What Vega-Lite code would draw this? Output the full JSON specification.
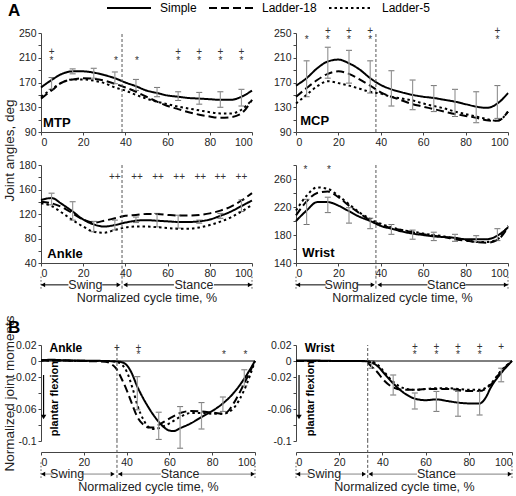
{
  "$schema": "https://vega.github.io/schema/vega-lite/v6.json",
  "autosize": {"type": "none"},
  "padding": {"left": 41, "top": 33, "right": 475, "bottom": 463},
  "columns": 2,
  "align": "none",
  "bounds": "flush",
  "spacing": {"row": 0, "column": 41},
  "config": {
    "font": "Liberation Sans",
    "view": {"stroke": null},
    "axis": {"labelFont": "Liberation Sans", "labelFontSize": 10.5, "labelColor": "#222", "domainColor": "#444", "tickColor": "#444", "tickSize": 3, "labelPadding": 2, "grid": false, "titleFont": "Liberation Sans", "titleFontSize": 13.5, "titleFontWeight": "normal", "titleColor": "#222"},
    "text": {"font": "Liberation Sans"},
    "title": {"font": "Liberation Sans"},
    "legend": {"gridAlign": "none"}
  },
  "datasets": {
    "mtp": [
      {"s":"Simple","x":0,"y":162},{"s":"Simple","x":5,"y":174},{"s":"Simple","x":10,"y":184},{"s":"Simple","x":15,"y":188},{"s":"Simple","x":20,"y":188},{"s":"Simple","x":25,"y":186},{"s":"Simple","x":30,"y":182},{"s":"Simple","x":35,"y":177},{"s":"Simple","x":40,"y":170},{"s":"Simple","x":45,"y":164},{"s":"Simple","x":50,"y":157},{"s":"Simple","x":55,"y":153},{"s":"Simple","x":60,"y":149},{"s":"Simple","x":65,"y":147},{"s":"Simple","x":70,"y":145},{"s":"Simple","x":75,"y":144},{"s":"Simple","x":80,"y":143},{"s":"Simple","x":85,"y":142},{"s":"Simple","x":90,"y":142},{"s":"Simple","x":95,"y":147},{"s":"Simple","x":100,"y":157},
      {"s":"Ladder-18","x":0,"y":144},{"s":"Ladder-18","x":5,"y":157},{"s":"Ladder-18","x":10,"y":170},{"s":"Ladder-18","x":15,"y":175},{"s":"Ladder-18","x":20,"y":177},{"s":"Ladder-18","x":25,"y":176},{"s":"Ladder-18","x":30,"y":173},{"s":"Ladder-18","x":35,"y":168},{"s":"Ladder-18","x":40,"y":162},{"s":"Ladder-18","x":45,"y":155},{"s":"Ladder-18","x":50,"y":147},{"s":"Ladder-18","x":55,"y":139},{"s":"Ladder-18","x":60,"y":132},{"s":"Ladder-18","x":65,"y":127},{"s":"Ladder-18","x":70,"y":122},{"s":"Ladder-18","x":75,"y":118},{"s":"Ladder-18","x":80,"y":115},{"s":"Ladder-18","x":85,"y":113},{"s":"Ladder-18","x":90,"y":114},{"s":"Ladder-18","x":95,"y":120},{"s":"Ladder-18","x":100,"y":142},
      {"s":"Ladder-5","x":0,"y":147},{"s":"Ladder-5","x":5,"y":159},{"s":"Ladder-5","x":10,"y":170},{"s":"Ladder-5","x":15,"y":175},{"s":"Ladder-5","x":20,"y":175},{"s":"Ladder-5","x":25,"y":173},{"s":"Ladder-5","x":30,"y":169},{"s":"Ladder-5","x":35,"y":162},{"s":"Ladder-5","x":40,"y":157},{"s":"Ladder-5","x":45,"y":150},{"s":"Ladder-5","x":50,"y":144},{"s":"Ladder-5","x":55,"y":139},{"s":"Ladder-5","x":60,"y":135},{"s":"Ladder-5","x":65,"y":131},{"s":"Ladder-5","x":70,"y":128},{"s":"Ladder-5","x":75,"y":125},{"s":"Ladder-5","x":80,"y":122},{"s":"Ladder-5","x":85,"y":120},{"s":"Ladder-5","x":90,"y":120},{"s":"Ladder-5","x":95,"y":126},{"s":"Ladder-5","x":100,"y":142}
    ],
    "mcp": [
      {"s":"Simple","x":0,"y":165},{"s":"Simple","x":5,"y":177},{"s":"Simple","x":10,"y":193},{"s":"Simple","x":15,"y":204},{"s":"Simple","x":20,"y":207},{"s":"Simple","x":25,"y":201},{"s":"Simple","x":30,"y":191},{"s":"Simple","x":35,"y":177},{"s":"Simple","x":40,"y":166},{"s":"Simple","x":45,"y":159},{"s":"Simple","x":50,"y":154},{"s":"Simple","x":55,"y":150},{"s":"Simple","x":60,"y":147},{"s":"Simple","x":65,"y":145},{"s":"Simple","x":70,"y":142},{"s":"Simple","x":75,"y":139},{"s":"Simple","x":80,"y":135},{"s":"Simple","x":85,"y":131},{"s":"Simple","x":90,"y":129},{"s":"Simple","x":95,"y":136},{"s":"Simple","x":100,"y":153},
      {"s":"Ladder-18","x":0,"y":147},{"s":"Ladder-18","x":5,"y":161},{"s":"Ladder-18","x":10,"y":174},{"s":"Ladder-18","x":15,"y":184},{"s":"Ladder-18","x":20,"y":188},{"s":"Ladder-18","x":25,"y":184},{"s":"Ladder-18","x":30,"y":175},{"s":"Ladder-18","x":35,"y":165},{"s":"Ladder-18","x":40,"y":154},{"s":"Ladder-18","x":45,"y":147},{"s":"Ladder-18","x":50,"y":141},{"s":"Ladder-18","x":55,"y":135},{"s":"Ladder-18","x":60,"y":131},{"s":"Ladder-18","x":65,"y":127},{"s":"Ladder-18","x":70,"y":123},{"s":"Ladder-18","x":75,"y":119},{"s":"Ladder-18","x":80,"y":116},{"s":"Ladder-18","x":85,"y":113},{"s":"Ladder-18","x":90,"y":109},{"s":"Ladder-18","x":95,"y":108},{"s":"Ladder-18","x":100,"y":123},
      {"s":"Ladder-5","x":0,"y":136},{"s":"Ladder-5","x":5,"y":150},{"s":"Ladder-5","x":10,"y":164},{"s":"Ladder-5","x":15,"y":172},{"s":"Ladder-5","x":20,"y":169},{"s":"Ladder-5","x":25,"y":165},{"s":"Ladder-5","x":30,"y":160},{"s":"Ladder-5","x":35,"y":155},{"s":"Ladder-5","x":40,"y":152},{"s":"Ladder-5","x":45,"y":147},{"s":"Ladder-5","x":50,"y":144},{"s":"Ladder-5","x":55,"y":141},{"s":"Ladder-5","x":60,"y":136},{"s":"Ladder-5","x":65,"y":132},{"s":"Ladder-5","x":70,"y":128},{"s":"Ladder-5","x":75,"y":123},{"s":"Ladder-5","x":80,"y":119},{"s":"Ladder-5","x":85,"y":115},{"s":"Ladder-5","x":90,"y":111},{"s":"Ladder-5","x":95,"y":108},{"s":"Ladder-5","x":100,"y":123}
    ],
    "ankleA": [
      {"s":"Simple","x":0,"y":143},{"s":"Simple","x":5,"y":146},{"s":"Simple","x":10,"y":136},{"s":"Simple","x":15,"y":124},{"s":"Simple","x":20,"y":111},{"s":"Simple","x":25,"y":103},{"s":"Simple","x":30,"y":99.5},{"s":"Simple","x":35,"y":102},{"s":"Simple","x":40,"y":106},{"s":"Simple","x":45,"y":109},{"s":"Simple","x":50,"y":110},{"s":"Simple","x":55,"y":109},{"s":"Simple","x":60,"y":108},{"s":"Simple","x":65,"y":107},{"s":"Simple","x":70,"y":107},{"s":"Simple","x":75,"y":108},{"s":"Simple","x":80,"y":111},{"s":"Simple","x":85,"y":117},{"s":"Simple","x":90,"y":124},{"s":"Simple","x":95,"y":133},{"s":"Simple","x":100,"y":142},
      {"s":"Ladder-18","x":0,"y":140},{"s":"Ladder-18","x":5,"y":137.5},{"s":"Ladder-18","x":10,"y":131},{"s":"Ladder-18","x":15,"y":121},{"s":"Ladder-18","x":20,"y":111},{"s":"Ladder-18","x":25,"y":106},{"s":"Ladder-18","x":30,"y":109},{"s":"Ladder-18","x":35,"y":113},{"s":"Ladder-18","x":40,"y":117},{"s":"Ladder-18","x":45,"y":118.5},{"s":"Ladder-18","x":50,"y":120},{"s":"Ladder-18","x":55,"y":120},{"s":"Ladder-18","x":60,"y":118.5},{"s":"Ladder-18","x":65,"y":117.5},{"s":"Ladder-18","x":70,"y":117.5},{"s":"Ladder-18","x":75,"y":118.5},{"s":"Ladder-18","x":80,"y":121},{"s":"Ladder-18","x":85,"y":125.5},{"s":"Ladder-18","x":90,"y":132},{"s":"Ladder-18","x":95,"y":142},{"s":"Ladder-18","x":100,"y":154},
      {"s":"Ladder-5","x":0,"y":137.5},{"s":"Ladder-5","x":5,"y":133},{"s":"Ladder-5","x":10,"y":122},{"s":"Ladder-5","x":15,"y":110},{"s":"Ladder-5","x":20,"y":99.5},{"s":"Ladder-5","x":25,"y":91},{"s":"Ladder-5","x":30,"y":89.5},{"s":"Ladder-5","x":35,"y":94},{"s":"Ladder-5","x":40,"y":98},{"s":"Ladder-5","x":45,"y":99.5},{"s":"Ladder-5","x":50,"y":99.5},{"s":"Ladder-5","x":55,"y":98.5},{"s":"Ladder-5","x":60,"y":97},{"s":"Ladder-5","x":65,"y":96},{"s":"Ladder-5","x":70,"y":96},{"s":"Ladder-5","x":75,"y":98},{"s":"Ladder-5","x":80,"y":102},{"s":"Ladder-5","x":85,"y":107.5},{"s":"Ladder-5","x":90,"y":114.5},{"s":"Ladder-5","x":95,"y":124},{"s":"Ladder-5","x":100,"y":135}
    ],
    "wristA": [
      {"s":"Simple","x":0,"y":200},{"s":"Simple","x":5,"y":215},{"s":"Simple","x":10,"y":227},{"s":"Simple","x":15,"y":227},{"s":"Simple","x":20,"y":222},{"s":"Simple","x":25,"y":214},{"s":"Simple","x":30,"y":206},{"s":"Simple","x":35,"y":200},{"s":"Simple","x":40,"y":193},{"s":"Simple","x":45,"y":189},{"s":"Simple","x":50,"y":185},{"s":"Simple","x":55,"y":182},{"s":"Simple","x":60,"y":180},{"s":"Simple","x":65,"y":178},{"s":"Simple","x":70,"y":177},{"s":"Simple","x":75,"y":176},{"s":"Simple","x":80,"y":174},{"s":"Simple","x":85,"y":174},{"s":"Simple","x":90,"y":174},{"s":"Simple","x":95,"y":179},{"s":"Simple","x":100,"y":191},
      {"s":"Ladder-18","x":0,"y":208},{"s":"Ladder-18","x":5,"y":228},{"s":"Ladder-18","x":10,"y":240},{"s":"Ladder-18","x":15,"y":242},{"s":"Ladder-18","x":20,"y":234},{"s":"Ladder-18","x":25,"y":222},{"s":"Ladder-18","x":30,"y":211},{"s":"Ladder-18","x":35,"y":201},{"s":"Ladder-18","x":40,"y":195},{"s":"Ladder-18","x":45,"y":190},{"s":"Ladder-18","x":50,"y":187},{"s":"Ladder-18","x":55,"y":184},{"s":"Ladder-18","x":60,"y":181},{"s":"Ladder-18","x":65,"y":179},{"s":"Ladder-18","x":70,"y":177},{"s":"Ladder-18","x":75,"y":174},{"s":"Ladder-18","x":80,"y":172},{"s":"Ladder-18","x":85,"y":170},{"s":"Ladder-18","x":90,"y":169},{"s":"Ladder-18","x":95,"y":173},{"s":"Ladder-18","x":100,"y":191},
      {"s":"Ladder-5","x":0,"y":215},{"s":"Ladder-5","x":5,"y":236},{"s":"Ladder-5","x":10,"y":248},{"s":"Ladder-5","x":15,"y":246},{"s":"Ladder-5","x":20,"y":236},{"s":"Ladder-5","x":25,"y":224},{"s":"Ladder-5","x":30,"y":212},{"s":"Ladder-5","x":35,"y":203},{"s":"Ladder-5","x":40,"y":196},{"s":"Ladder-5","x":45,"y":191},{"s":"Ladder-5","x":50,"y":187},{"s":"Ladder-5","x":55,"y":185},{"s":"Ladder-5","x":60,"y":182},{"s":"Ladder-5","x":65,"y":180},{"s":"Ladder-5","x":70,"y":178},{"s":"Ladder-5","x":75,"y":175},{"s":"Ladder-5","x":80,"y":173},{"s":"Ladder-5","x":85,"y":170},{"s":"Ladder-5","x":90,"y":170},{"s":"Ladder-5","x":95,"y":174},{"s":"Ladder-5","x":100,"y":193}
    ],
    "ankleB": [
      {"s":"Simple","x":0,"y":0.001},{"s":"Simple","x":5,"y":0.0015},{"s":"Simple","x":10,"y":0.001},{"s":"Simple","x":20,"y":0.0005},{"s":"Simple","x":30,"y":0},{"s":"Simple","x":35,"y":-0.0005},{"s":"Simple","x":37,"y":-0.001},{"s":"Simple","x":40,"y":-0.005},{"s":"Simple","x":42,"y":-0.013},{"s":"Simple","x":45,"y":-0.032},{"s":"Simple","x":50,"y":-0.057},{"s":"Simple","x":55,"y":-0.076},{"s":"Simple","x":58,"y":-0.084},{"s":"Simple","x":60,"y":-0.087},{"s":"Simple","x":62,"y":-0.0875},{"s":"Simple","x":65,"y":-0.084},{"s":"Simple","x":70,"y":-0.078},{"s":"Simple","x":75,"y":-0.07},{"s":"Simple","x":80,"y":-0.0625},{"s":"Simple","x":85,"y":-0.053},{"s":"Simple","x":90,"y":-0.04},{"s":"Simple","x":95,"y":-0.022},{"s":"Simple","x":100,"y":0},
      {"s":"Ladder-18","x":0,"y":0.0005},{"s":"Ladder-18","x":10,"y":0.0005},{"s":"Ladder-18","x":20,"y":0},{"s":"Ladder-18","x":30,"y":-0.001},{"s":"Ladder-18","x":33,"y":-0.004},{"s":"Ladder-18","x":35,"y":-0.009},{"s":"Ladder-18","x":38,"y":-0.024},{"s":"Ladder-18","x":40,"y":-0.036},{"s":"Ladder-18","x":43,"y":-0.057},{"s":"Ladder-18","x":45,"y":-0.07},{"s":"Ladder-18","x":48,"y":-0.08},{"s":"Ladder-18","x":50,"y":-0.083},{"s":"Ladder-18","x":53,"y":-0.083},{"s":"Ladder-18","x":55,"y":-0.08},{"s":"Ladder-18","x":60,"y":-0.072},{"s":"Ladder-18","x":65,"y":-0.065},{"s":"Ladder-18","x":70,"y":-0.0625},{"s":"Ladder-18","x":75,"y":-0.063},{"s":"Ladder-18","x":80,"y":-0.0645},{"s":"Ladder-18","x":85,"y":-0.066},{"s":"Ladder-18","x":88,"y":-0.061},{"s":"Ladder-18","x":90,"y":-0.053},{"s":"Ladder-18","x":95,"y":-0.028},{"s":"Ladder-18","x":100,"y":0},
      {"s":"Ladder-5","x":0,"y":0.0005},{"s":"Ladder-5","x":10,"y":0.0005},{"s":"Ladder-5","x":20,"y":0},{"s":"Ladder-5","x":30,"y":0},{"s":"Ladder-5","x":35,"y":-0.001},{"s":"Ladder-5","x":38,"y":-0.005},{"s":"Ladder-5","x":40,"y":-0.013},{"s":"Ladder-5","x":43,"y":-0.036},{"s":"Ladder-5","x":45,"y":-0.055},{"s":"Ladder-5","x":48,"y":-0.074},{"s":"Ladder-5","x":50,"y":-0.082},{"s":"Ladder-5","x":53,"y":-0.085},{"s":"Ladder-5","x":55,"y":-0.084},{"s":"Ladder-5","x":60,"y":-0.078},{"s":"Ladder-5","x":65,"y":-0.07},{"s":"Ladder-5","x":70,"y":-0.065},{"s":"Ladder-5","x":75,"y":-0.065},{"s":"Ladder-5","x":80,"y":-0.066},{"s":"Ladder-5","x":85,"y":-0.066},{"s":"Ladder-5","x":90,"y":-0.059},{"s":"Ladder-5","x":95,"y":-0.036},{"s":"Ladder-5","x":100,"y":0}
    ],
    "wristB": [
      {"s":"Simple","x":0,"y":0.0005},{"s":"Simple","x":10,"y":0.0005},{"s":"Simple","x":20,"y":0},{"s":"Simple","x":30,"y":0},{"s":"Simple","x":33,"y":-0.0005},{"s":"Simple","x":35,"y":-0.002},{"s":"Simple","x":38,"y":-0.007},{"s":"Simple","x":40,"y":-0.013},{"s":"Simple","x":45,"y":-0.028},{"s":"Simple","x":50,"y":-0.04},{"s":"Simple","x":55,"y":-0.047},{"s":"Simple","x":60,"y":-0.049},{"s":"Simple","x":65,"y":-0.048},{"s":"Simple","x":70,"y":-0.05},{"s":"Simple","x":75,"y":-0.052},{"s":"Simple","x":80,"y":-0.053},{"s":"Simple","x":85,"y":-0.053},{"s":"Simple","x":88,"y":-0.045},{"s":"Simple","x":90,"y":-0.034},{"s":"Simple","x":95,"y":-0.015},{"s":"Simple","x":100,"y":0},
      {"s":"Ladder-18","x":0,"y":0},{"s":"Ladder-18","x":30,"y":0},{"s":"Ladder-18","x":33,"y":-0.002},{"s":"Ladder-18","x":35,"y":-0.007},{"s":"Ladder-18","x":38,"y":-0.015},{"s":"Ladder-18","x":40,"y":-0.022},{"s":"Ladder-18","x":45,"y":-0.033},{"s":"Ladder-18","x":50,"y":-0.036},{"s":"Ladder-18","x":55,"y":-0.036},{"s":"Ladder-18","x":60,"y":-0.035},{"s":"Ladder-18","x":65,"y":-0.035},{"s":"Ladder-18","x":70,"y":-0.035},{"s":"Ladder-18","x":75,"y":-0.036},{"s":"Ladder-18","x":80,"y":-0.0375},{"s":"Ladder-18","x":85,"y":-0.0375},{"s":"Ladder-18","x":90,"y":-0.03},{"s":"Ladder-18","x":95,"y":-0.013},{"s":"Ladder-18","x":100,"y":0},
      {"s":"Ladder-5","x":0,"y":0},{"s":"Ladder-5","x":30,"y":0},{"s":"Ladder-5","x":35,"y":-0.001},{"s":"Ladder-5","x":38,"y":-0.005},{"s":"Ladder-5","x":40,"y":-0.011},{"s":"Ladder-5","x":45,"y":-0.026},{"s":"Ladder-5","x":50,"y":-0.034},{"s":"Ladder-5","x":55,"y":-0.036},{"s":"Ladder-5","x":60,"y":-0.035},{"s":"Ladder-5","x":65,"y":-0.034},{"s":"Ladder-5","x":70,"y":-0.034},{"s":"Ladder-5","x":75,"y":-0.035},{"s":"Ladder-5","x":80,"y":-0.036},{"s":"Ladder-5","x":85,"y":-0.036},{"s":"Ladder-5","x":90,"y":-0.029},{"s":"Ladder-5","x":95,"y":-0.012},{"s":"Ladder-5","x":100,"y":0}
    ],
    "err_mtp": [{"x":5,"y":159,"y2":178},{"x":15,"y":184,"y2":192},{"x":25,"y":177,"y2":193},{"x":35,"y":168,"y2":187},{"x":45,"y":157,"y2":175},{"x":55,"y":147,"y2":162},{"x":65,"y":141,"y2":155},{"x":75,"y":135,"y2":154},{"x":85,"y":130,"y2":155},{"x":95,"y":132,"y2":159}],
    "err_mcp": [{"x":5,"y":147,"y2":205},{"x":15,"y":177,"y2":227},{"x":25,"y":169,"y2":222},{"x":35,"y":153,"y2":205},{"x":45,"y":132,"y2":189},{"x":55,"y":126,"y2":174},{"x":65,"y":123,"y2":165},{"x":75,"y":115,"y2":159},{"x":85,"y":105,"y2":155},{"x":95,"y":112,"y2":165}],
    "err_ankleA": [{"x":5,"y":135,"y2":154},{"x":15,"y":110,"y2":140},{"x":25,"y":91,"y2":108},{"x":35,"y":94,"y2":110},{"x":45,"y":106,"y2":115},{"x":55,"y":99,"y2":121},{"x":65,"y":97,"y2":118},{"x":75,"y":105,"y2":110},{"x":85,"y":113,"y2":121},{"x":95,"y":124,"y2":143}],
    "err_wristA": [{"x":5,"y":195,"y2":231},{"x":15,"y":212,"y2":234},{"x":25,"y":197,"y2":219},{"x":35,"y":189,"y2":204},{"x":45,"y":181,"y2":195},{"x":55,"y":174,"y2":187},{"x":65,"y":172,"y2":184},{"x":75,"y":171,"y2":181},{"x":85,"y":170,"y2":179},{"x":95,"y":172,"y2":189}],
    "err_ankleB": [{"x":45,"y":-0.061,"y2":-0.0196},{"x":55,"y":-0.098,"y2":-0.064},{"x":65,"y":-0.109,"y2":-0.057},{"x":75,"y":-0.085,"y2":-0.052},{"x":85,"y":-0.063,"y2":-0.045},{"x":95,"y":-0.031,"y2":-0.011}],
    "err_wristB": [{"x":35,"y":-0.009,"y2":0},{"x":45,"y":-0.0425,"y2":-0.0175},{"x":55,"y":-0.06,"y2":-0.04},{"x":65,"y":-0.063,"y2":-0.038},{"x":75,"y":-0.069,"y2":-0.038},{"x":85,"y":-0.0675,"y2":-0.038},{"x":95,"y":-0.026,"y2":-0.009}],
    "sig_mtp": [{"x":5,"y":220,"t":"+"},{"x":5,"y":205,"t":"*"},{"x":35.5,"y":205,"t":"*"},{"x":45.5,"y":205,"t":"*"},{"x":65,"y":220,"t":"+"},{"x":65,"y":205,"t":"*"},{"x":75,"y":220,"t":"+"},{"x":75,"y":205,"t":"*"},{"x":85,"y":220,"t":"+"},{"x":85,"y":205,"t":"*"},{"x":95,"y":220,"t":"+"},{"x":95,"y":205,"t":"*"}],
    "sig_mcp": [{"x":5,"y":239,"t":"*"},{"x":15,"y":253,"t":"+"},{"x":15,"y":239,"t":"*"},{"x":25,"y":253,"t":"+"},{"x":25,"y":239,"t":"*"},{"x":35,"y":253,"t":"+"},{"x":35,"y":239,"t":"*"},{"x":95,"y":253,"t":"+"},{"x":95,"y":239,"t":"*"}],
    "sig_ankleA": [{"x":35,"y":181,"t":"++"},{"x":45.5,"y":181,"t":"++"},{"x":55.5,"y":181,"t":"++"},{"x":65.5,"y":181,"t":"++"},{"x":75.5,"y":181,"t":"++"},{"x":85,"y":181,"t":"++"},{"x":95,"y":181,"t":"++"}],
    "sig_wristA": [{"x":4.5,"y":273,"t":"*"},{"x":15.5,"y":273,"t":"*"}],
    "sig_ankleB": [{"x":35.5,"y":0.016,"t":"+"},{"x":45.5,"y":0.016,"t":"+"},{"x":45.5,"y":0.007,"t":"*"},{"x":85.5,"y":0.007,"t":"*"},{"x":95.5,"y":0.007,"t":"*"}],
    "sig_wristB": [{"x":55,"y":0.017,"t":"+"},{"x":55,"y":0.007,"t":"*"},{"x":65,"y":0.017,"t":"+"},{"x":65,"y":0.007,"t":"*"},{"x":75,"y":0.017,"t":"+"},{"x":75,"y":0.007,"t":"*"},{"x":85,"y":0.017,"t":"+"},{"x":85,"y":0.007,"t":"*"},{"x":95,"y":0.017,"t":"+"}]
  },
  "concat": [
    {
      "width": 211, "height": 99,
      "title": {"text": "A", "anchor": "start", "frame": "group", "dx": -33, "dy": 8, "offset": 16, "fontSize": 17, "fontWeight": "bold", "color": "black"},
      "encoding": {
        "x": {"field": "x", "type": "quantitative", "scale": {"domain": [0, 100], "nice": false}, "axis": {"values": [0, 20, 40, 60, 80, 100], "title": null}},
        "y": {"field": "y", "type": "quantitative", "scale": {"domain": [90, 250], "nice": false, "zero": false}, "axis": {"values": [90, 110, 130, 150, 170, 190, 210, 230, 250], "labelExpr": "datum.value % 40 == 10 ? datum.label : ''", "title": "Joint  angles, deg", "titleX": -32, "titleY": 117, "titleAngle": 270, "titleAlign": "center", "titleBaseline": "middle"}}
      },
      "layer": [
        {"data": {"name": "mtp"}, "mark": {"type": "line", "interpolate": "monotone", "strokeWidth": 2, "color": "black"},
         "encoding": {"strokeDash": {"field": "s", "type": "nominal", "scale": {"domain": ["Simple", "Ladder-18", "Ladder-5"], "range": [[1, 0], [8, 4], [2.5, 3]]},
           "legend": {"orient": "none", "legendX": 65, "legendY": -48, "direction": "horizontal", "title": null, "symbolType": "stroke", "symbolSize": 1936, "symbolStrokeWidth": 2, "symbolStrokeColor": "black", "labelFontSize": 12, "labelFont": "Liberation Sans", "labelColor": "black", "labelOffset": 8, "columnPadding": 8}}}},
        {"data": {"name": "err_mtp"}, "mark": {"type": "errorbar", "ticks": {"size": 6, "color": "#333"}, "rule": {"color": "#999", "strokeWidth": 1.2}}, "encoding": {"y2": {"field": "y2"}}},
        {"data": {"name": "sig_mtp"}, "mark": {"type": "text", "fontSize": 10, "color": "#333"}, "encoding": {"text": {"field": "t"}}},
        {"data": {"values": [{"x": 38.4, "y": 90, "y2": 250}]}, "mark": {"type": "rule", "strokeDash": [3, 2], "color": "#555", "strokeWidth": 1}, "encoding": {"y2": {"field": "y2"}}},
        {"data": {"values": [{"x": 1, "y": 104, "t": "MTP"}]}, "mark": {"type": "text", "fontSize": 13, "fontWeight": "bold", "align": "left", "color": "black"}, "encoding": {"text": {"field": "t"}}}
      ]
    },
    {
      "width": 212, "height": 99,
      "encoding": {
        "x": {"field": "x", "type": "quantitative", "scale": {"domain": [0, 100], "nice": false}, "axis": {"values": [0, 20, 40, 60, 80, 100], "title": null}},
        "y": {"field": "y", "type": "quantitative", "scale": {"domain": [90, 250], "nice": false, "zero": false}, "axis": {"values": [90, 110, 130, 150, 170, 190, 210, 230, 250], "labelExpr": "datum.value % 40 == 10 ? datum.label : ''", "title": null}}
      },
      "layer": [
        {"data": {"name": "mcp"}, "mark": {"type": "line", "interpolate": "monotone", "strokeWidth": 2, "color": "black"},
         "encoding": {"strokeDash": {"field": "s", "type": "nominal", "scale": {"domain": ["Simple", "Ladder-18", "Ladder-5"], "range": [[1, 0], [8, 4], [2.5, 3]]},
           "legend": {"orient": "none", "legendX": 65, "legendY": -48, "direction": "horizontal", "title": null, "symbolType": "stroke", "symbolSize": 1936, "symbolStrokeWidth": 2, "symbolStrokeColor": "black", "labelFontSize": 12, "labelFont": "Liberation Sans", "labelColor": "black", "labelOffset": 8, "columnPadding": 8}}}},
        {"data": {"name": "err_mcp"}, "mark": {"type": "errorbar", "ticks": {"size": 6, "color": "#333"}, "rule": {"color": "#999", "strokeWidth": 1.2}}, "encoding": {"y2": {"field": "y2"}}},
        {"data": {"name": "sig_mcp"}, "mark": {"type": "text", "fontSize": 10, "color": "#333"}, "encoding": {"text": {"field": "t"}}},
        {"data": {"values": [{"x": 37.7, "y": 90, "y2": 250}]}, "mark": {"type": "rule", "strokeDash": [3, 2], "color": "#555", "strokeWidth": 1}, "encoding": {"y2": {"field": "y2"}}},
        {"data": {"values": [{"x": 2, "y": 108, "t": "MCP"}]}, "mark": {"type": "text", "fontSize": 13, "fontWeight": "bold", "align": "left", "color": "black"}, "encoding": {"text": {"field": "t"}}}
      ]
    },
    {"width": 211, "height": 33, "data": {"values": []}, "mark": "point"},
    {"width": 212, "height": 33, "data": {"values": []}, "mark": "point"},
    {
      "width": 211, "height": 98,
      "encoding": {
        "x": {"field": "x", "type": "quantitative", "scale": {"domain": [0, 100], "nice": false}, "axis": {"values": [0, 20, 40, 60, 80, 100], "title": null}},
        "y": {"field": "y", "type": "quantitative", "scale": {"domain": [40, 200], "nice": false, "zero": false}, "axis": {"values": [40, 60, 80, 100, 120, 140, 160, 180, 200], "labelExpr": "datum.value == 200 ? '180' : (datum.value % 40 == 0 ? datum.label : '')", "title": null}}
      },
      "layer": [
        {"data": {"name": "ankleA"}, "mark": {"type": "line", "interpolate": "monotone", "strokeWidth": 2, "color": "black"},
         "encoding": {"strokeDash": {"field": "s", "type": "nominal", "scale": {"domain": ["Simple", "Ladder-18", "Ladder-5"], "range": [[1, 0], [8, 4], [2.5, 3]]},
           "legend": {"orient": "none", "legendX": 65, "legendY": -48, "direction": "horizontal", "title": null, "symbolType": "stroke", "symbolSize": 1936, "symbolStrokeWidth": 2, "symbolStrokeColor": "black", "labelFontSize": 12, "labelFont": "Liberation Sans", "labelColor": "black", "labelOffset": 8, "columnPadding": 8}}}},
        {"data": {"name": "err_ankleA"}, "mark": {"type": "errorbar", "ticks": {"size": 6, "color": "#333"}, "rule": {"color": "#999", "strokeWidth": 1.2}}, "encoding": {"y2": {"field": "y2"}}},
        {"data": {"name": "sig_ankleA"}, "mark": {"type": "text", "fontSize": 10, "color": "#333"}, "encoding": {"text": {"field": "t"}}},
        {"data": {"values": [{"x": 38.4, "y": 40, "y2": 200}]}, "mark": {"type": "rule", "strokeDash": [3, 2], "color": "#555", "strokeWidth": 1}, "encoding": {"y2": {"field": "y2"}}},
        {"data": {"values": [{"x": 3, "y": 55, "t": "Ankle"}]}, "mark": {"type": "text", "fontSize": 13, "fontWeight": "bold", "align": "left", "color": "black"}, "encoding": {"text": {"field": "t"}}}
      ]
    },
    {
      "width": 212, "height": 98,
      "encoding": {
        "x": {"field": "x", "type": "quantitative", "scale": {"domain": [0, 100], "nice": false}, "axis": {"values": [0, 20, 40, 60, 80, 100], "title": null}},
        "y": {"field": "y", "type": "quantitative", "scale": {"domain": [140, 280], "nice": false, "zero": false}, "axis": {"values": [140, 160, 180, 200, 220, 240, 260, 280], "labelExpr": "datum.value % 40 == 20 ? datum.label : ''", "title": null}}
      },
      "layer": [
        {"data": {"name": "wristA"}, "mark": {"type": "line", "interpolate": "monotone", "strokeWidth": 2, "color": "black"},
         "encoding": {"strokeDash": {"field": "s", "type": "nominal", "scale": {"domain": ["Simple", "Ladder-18", "Ladder-5"], "range": [[1, 0], [8, 4], [2.5, 3]]},
           "legend": {"orient": "none", "legendX": 65, "legendY": -48, "direction": "horizontal", "title": null, "symbolType": "stroke", "symbolSize": 1936, "symbolStrokeWidth": 2, "symbolStrokeColor": "black", "labelFontSize": 12, "labelFont": "Liberation Sans", "labelColor": "black", "labelOffset": 8, "columnPadding": 8}}}},
        {"data": {"name": "err_wristA"}, "mark": {"type": "errorbar", "ticks": {"size": 6, "color": "#333"}, "rule": {"color": "#999", "strokeWidth": 1.2}}, "encoding": {"y2": {"field": "y2"}}},
        {"data": {"name": "sig_wristA"}, "mark": {"type": "text", "fontSize": 10, "color": "#333"}, "encoding": {"text": {"field": "t"}}},
        {"data": {"values": [{"x": 37.7, "y": 140, "y2": 280}]}, "mark": {"type": "rule", "strokeDash": [3, 2], "color": "#555", "strokeWidth": 1}, "encoding": {"y2": {"field": "y2"}}},
        {"data": {"values": [{"x": 3, "y": 154, "t": "Wrist"}]}, "mark": {"type": "text", "fontSize": 13, "fontWeight": "bold", "align": "left", "color": "black"}, "encoding": {"text": {"field": "t"}}}
      ]
    },
    {
      "width": 211, "height": 27,
      "encoding": {
        "x": {"field": "x", "type": "quantitative", "scale": {"domain": [0, 100], "nice": false}, "axis": {"domain": false, "ticks": false, "labels": false, "title": "Normalized cycle time, %", "titleFontSize": 12.5, "titlePadding": 1}},
        "y": {"field": "y", "type": "quantitative", "scale": {"domain": [0, 1], "nice": false}, "axis": null}
      },
      "layer": [
        {"data": {"values": [{"x": 0, "x2": 13, "y": 0.19}, {"x": 29, "x2": 37, "y": 0.19}, {"x": 39.5, "x2": 63, "y": 0.19}, {"x": 82, "x2": 100, "y": 0.19}]}, "mark": {"type": "rule", "color": "black", "strokeWidth": 1}, "encoding": {"x2": {"field": "x2"}}},
        {"data": {"values": [{"x": 0, "y": 0.05, "y2": 0.5}, {"x": 100, "y": 0.05, "y2": 0.5}]}, "mark": {"type": "rule", "strokeDash": [1.5, 2], "color": "#555", "strokeWidth": 1}, "encoding": {"y2": {"field": "y2"}}},
        {"data": {"values": [{"x": 38.4, "y": 0.05, "y2": 1}]}, "mark": {"type": "rule", "strokeDash": [3, 2], "color": "#555", "strokeWidth": 1}, "encoding": {"y2": {"field": "y2"}}},
        {"data": {"values": [{"x": 1, "y": 0.19, "sh": "triangle-left"}, {"x": 36.8, "y": 0.19, "sh": "triangle-right"}, {"x": 40, "y": 0.19, "sh": "triangle-left"}, {"x": 99, "y": 0.19, "sh": "triangle-right"}]}, "mark": {"type": "point", "filled": true, "color": "black", "size": 22, "opacity": 1}, "encoding": {"shape": {"field": "sh", "type": "nominal", "scale": null}}},
        {"data": {"values": [{"x": 21, "y": 0.19, "t": "Swing"}, {"x": 72.5, "y": 0.19, "t": "Stance"}]}, "mark": {"type": "text", "fontSize": 12.5, "color": "#222"}, "encoding": {"text": {"field": "t"}}}
      ]
    },
    {
      "width": 212, "height": 27,
      "encoding": {
        "x": {"field": "x", "type": "quantitative", "scale": {"domain": [0, 100], "nice": false}, "axis": {"domain": false, "ticks": false, "labels": false, "title": "Normalized cycle time, %", "titleFontSize": 12.5, "titlePadding": 1}},
        "y": {"field": "y", "type": "quantitative", "scale": {"domain": [0, 1], "nice": false}, "axis": null}
      },
      "layer": [
        {"data": {"values": [{"x": 0, "x2": 14, "y": 0.19}, {"x": 29, "x2": 36.5, "y": 0.19}, {"x": 39, "x2": 62, "y": 0.19}, {"x": 80, "x2": 100, "y": 0.19}]}, "mark": {"type": "rule", "color": "black", "strokeWidth": 1}, "encoding": {"x2": {"field": "x2"}}},
        {"data": {"values": [{"x": 0, "y": 0.05, "y2": 0.5}, {"x": 100, "y": 0.05, "y2": 0.5}]}, "mark": {"type": "rule", "strokeDash": [1.5, 2], "color": "#555", "strokeWidth": 1}, "encoding": {"y2": {"field": "y2"}}},
        {"data": {"values": [{"x": 37.7, "y": 0.05, "y2": 1}]}, "mark": {"type": "rule", "strokeDash": [3, 2], "color": "#555", "strokeWidth": 1}, "encoding": {"y2": {"field": "y2"}}},
        {"data": {"values": [{"x": 1, "y": 0.19, "sh": "triangle-left"}, {"x": 36.2, "y": 0.19, "sh": "triangle-right"}, {"x": 39.4, "y": 0.19, "sh": "triangle-left"}, {"x": 99, "y": 0.19, "sh": "triangle-right"}]}, "mark": {"type": "point", "filled": true, "color": "black", "size": 22, "opacity": 1}, "encoding": {"shape": {"field": "sh", "type": "nominal", "scale": null}}},
        {"data": {"values": [{"x": 21.5, "y": 0.19, "t": "Swing"}, {"x": 71, "y": 0.19, "t": "Stance"}]}, "mark": {"type": "text", "fontSize": 12.5, "color": "#222"}, "encoding": {"text": {"field": "t"}}}
      ]
    },
    {"width": 211, "height": 55, "data": {"values": []}, "mark": "point"},
    {"width": 212, "height": 55, "data": {"values": []}, "mark": "point"},
    {
      "width": 214, "height": 96,
      "title": {"text": "B", "anchor": "start", "frame": "group", "dx": -33, "dy": 36, "offset": 14, "fontSize": 17, "fontWeight": "bold", "color": "black"},
      "encoding": {
        "x": {"field": "x", "type": "quantitative", "scale": {"domain": [0, 100], "nice": false}, "axis": {"values": [0, 20, 40, 60, 80, 100], "title": null, "offset": 11}},
        "y": {"field": "y", "type": "quantitative", "scale": {"domain": [-0.1, 0.02], "nice": false, "zero": false}, "axis": {"values": [0.02, 0, -0.02, -0.04, -0.06, -0.08, -0.1], "labelExpr": "(datum.value == -0.04 || datum.value == -0.08) ? '' : toString(datum.value)", "title": "Normalized joint moments", "titleX": -32, "titleY": 48, "titleAngle": 270, "titleAlign": "center", "titleBaseline": "middle"}}
      },
      "layer": [
        {"data": {"values": [{"x": 0, "x2": 100, "y": 0}]}, "mark": {"type": "rule", "color": "black", "strokeWidth": 1}, "encoding": {"x2": {"field": "x2"}}},
        {"data": {"name": "ankleB"}, "mark": {"type": "line", "interpolate": "monotone", "strokeWidth": 2, "color": "black"},
         "encoding": {"strokeDash": {"field": "s", "type": "nominal", "scale": {"domain": ["Simple", "Ladder-18", "Ladder-5"], "range": [[1, 0], [8, 4], [2.5, 3]]},
           "legend": {"orient": "none", "legendX": 65, "legendY": -48, "direction": "horizontal", "title": null, "symbolType": "stroke", "symbolSize": 1936, "symbolStrokeWidth": 2, "symbolStrokeColor": "black", "labelFontSize": 12, "labelFont": "Liberation Sans", "labelColor": "black", "labelOffset": 8, "columnPadding": 8}}}},
        {"data": {"name": "err_ankleB"}, "mark": {"type": "errorbar", "ticks": {"size": 6, "color": "#333"}, "rule": {"color": "#999", "strokeWidth": 1.2}}, "encoding": {"y2": {"field": "y2"}}},
        {"data": {"name": "sig_ankleB"}, "mark": {"type": "text", "fontSize": 10, "color": "#333"}, "encoding": {"text": {"field": "t"}}},
        {"data": {"values": [{"x": 35.5, "y": -0.1, "y2": 0.02}]}, "mark": {"type": "rule", "strokeDash": [3, 2], "color": "#555", "strokeWidth": 1}, "encoding": {"y2": {"field": "y2"}}},
        {"data": {"values": [{"x": 1.2, "y": -0.0175, "y2": -0.068}]}, "mark": {"type": "rule", "color": "black", "strokeWidth": 1.2}, "encoding": {"y2": {"field": "y2"}}},
        {"data": {"values": [{"x": 1.2, "y": -0.07}]}, "mark": {"type": "point", "shape": "triangle-down", "filled": true, "color": "black", "size": 30, "opacity": 1}},
        {"data": {"values": [{"x": 6.5, "y": -0.047, "t": "plantar flexion"}]}, "mark": {"type": "text", "angle": 270, "fontSize": 11, "fontWeight": "bold", "color": "black", "align": "center", "baseline": "middle"}, "encoding": {"text": {"field": "t"}}},
        {"data": {"values": [{"x": 4, "y": 0.016, "t": "Ankle"}]}, "mark": {"type": "text", "fontSize": 12, "fontWeight": "bold", "align": "left", "color": "black"}, "encoding": {"text": {"field": "t"}}}
      ]
    },
    {
      "width": 216, "height": 96,
      "encoding": {
        "x": {"field": "x", "type": "quantitative", "scale": {"domain": [0, 100], "nice": false}, "axis": {"values": [0, 20, 40, 60, 80, 100], "title": null, "offset": 11}},
        "y": {"field": "y", "type": "quantitative", "scale": {"domain": [-0.1, 0.02], "nice": false, "zero": false}, "axis": {"values": [0.02, 0, -0.02, -0.04, -0.06, -0.08, -0.1], "labelExpr": "(datum.value == -0.04 || datum.value == -0.08) ? '' : toString(datum.value)", "title": null}}
      },
      "layer": [
        {"data": {"values": [{"x": 0, "x2": 100, "y": 0}]}, "mark": {"type": "rule", "color": "black", "strokeWidth": 1}, "encoding": {"x2": {"field": "x2"}}},
        {"data": {"name": "wristB"}, "mark": {"type": "line", "interpolate": "monotone", "strokeWidth": 2, "color": "black"},
         "encoding": {"strokeDash": {"field": "s", "type": "nominal", "scale": {"domain": ["Simple", "Ladder-18", "Ladder-5"], "range": [[1, 0], [8, 4], [2.5, 3]]},
           "legend": {"orient": "none", "legendX": 65, "legendY": -48, "direction": "horizontal", "title": null, "symbolType": "stroke", "symbolSize": 1936, "symbolStrokeWidth": 2, "symbolStrokeColor": "black", "labelFontSize": 12, "labelFont": "Liberation Sans", "labelColor": "black", "labelOffset": 8, "columnPadding": 8}}}},
        {"data": {"name": "err_wristB"}, "mark": {"type": "errorbar", "ticks": {"size": 6, "color": "#333"}, "rule": {"color": "#999", "strokeWidth": 1.2}}, "encoding": {"y2": {"field": "y2"}}},
        {"data": {"name": "sig_wristB"}, "mark": {"type": "text", "fontSize": 10, "color": "#333"}, "encoding": {"text": {"field": "t"}}},
        {"data": {"values": [{"x": 33.2, "y": -0.1, "y2": 0.02}]}, "mark": {"type": "rule", "strokeDash": [3, 2], "color": "#555", "strokeWidth": 1}, "encoding": {"y2": {"field": "y2"}}},
        {"data": {"values": [{"x": 1.4, "y": -0.0175, "y2": -0.068}]}, "mark": {"type": "rule", "color": "black", "strokeWidth": 1.2}, "encoding": {"y2": {"field": "y2"}}},
        {"data": {"values": [{"x": 1.4, "y": -0.07}]}, "mark": {"type": "point", "shape": "triangle-down", "filled": true, "color": "black", "size": 30, "opacity": 1}},
        {"data": {"values": [{"x": 7, "y": -0.047, "t": "plantar flexion"}]}, "mark": {"type": "text", "angle": 270, "fontSize": 11, "fontWeight": "bold", "color": "black", "align": "center", "baseline": "middle"}, "encoding": {"text": {"field": "t"}}},
        {"data": {"values": [{"x": 4, "y": 0.016, "t": "Wrist"}]}, "mark": {"type": "text", "fontSize": 12, "fontWeight": "bold", "align": "left", "color": "black"}, "encoding": {"text": {"field": "t"}}}
      ]
    },
    {
      "width": 214, "height": 38,
      "encoding": {
        "x": {"field": "x", "type": "quantitative", "scale": {"domain": [0, 100], "nice": false}, "axis": {"domain": false, "ticks": false, "labels": false, "title": "Normalized cycle time, %", "titleFontSize": 12.5, "titlePadding": 1}},
        "y": {"field": "y", "type": "quantitative", "scale": {"domain": [0, 1], "nice": false}, "axis": null}
      },
      "layer": [
        {"data": {"values": [{"x": 0, "x2": 6, "y": 0.13}, {"x": 18.5, "x2": 32.5, "y": 0.13}, {"x": 36, "x2": 56, "y": 0.13}, {"x": 74, "x2": 99, "y": 0.13}]}, "mark": {"type": "rule", "color": "#999", "strokeWidth": 1.2}, "encoding": {"x2": {"field": "x2"}}},
        {"data": {"values": [{"x": 0, "y": 0.03, "y2": 0.45}, {"x": 100, "y": 0.03, "y2": 0.45}]}, "mark": {"type": "rule", "strokeDash": [1.5, 2], "color": "#555", "strokeWidth": 1}, "encoding": {"y2": {"field": "y2"}}},
        {"data": {"values": [{"x": 35.5, "y": 0.03, "y2": 1}]}, "mark": {"type": "rule", "strokeDash": [3, 2], "color": "#555", "strokeWidth": 1}, "encoding": {"y2": {"field": "y2"}}},
        {"data": {"values": [{"x": 1, "y": 0.13, "sh": "triangle-left"}, {"x": 33.5, "y": 0.13, "sh": "triangle-right"}, {"x": 37, "y": 0.13, "sh": "triangle-left"}, {"x": 99, "y": 0.13, "sh": "triangle-right"}]}, "mark": {"type": "point", "filled": true, "color": "black", "size": 22, "opacity": 1}, "encoding": {"shape": {"field": "sh", "type": "nominal", "scale": null}}},
        {"data": {"values": [{"x": 12.2, "y": 0.13, "t": "Swing"}, {"x": 65, "y": 0.13, "t": "Stance"}]}, "mark": {"type": "text", "fontSize": 12.5, "color": "#222"}, "encoding": {"text": {"field": "t"}}}
      ]
    },
    {
      "width": 216, "height": 38,
      "encoding": {
        "x": {"field": "x", "type": "quantitative", "scale": {"domain": [0, 100], "nice": false}, "axis": {"domain": false, "ticks": false, "labels": false, "title": "Normalized cycle time, %", "titleFontSize": 12.5, "titlePadding": 1}},
        "y": {"field": "y", "type": "quantitative", "scale": {"domain": [0, 1], "nice": false}, "axis": null}
      },
      "layer": [
        {"data": {"values": [{"x": 0, "x2": 6.5, "y": 0.13}, {"x": 20, "x2": 31, "y": 0.13}, {"x": 34, "x2": 56, "y": 0.13}, {"x": 74, "x2": 99, "y": 0.13}]}, "mark": {"type": "rule", "color": "#999", "strokeWidth": 1.2}, "encoding": {"x2": {"field": "x2"}}},
        {"data": {"values": [{"x": 0, "y": 0.03, "y2": 0.45}, {"x": 100, "y": 0.03, "y2": 0.45}]}, "mark": {"type": "rule", "strokeDash": [1.5, 2], "color": "#555", "strokeWidth": 1}, "encoding": {"y2": {"field": "y2"}}},
        {"data": {"values": [{"x": 33.2, "y": 0.03, "y2": 1}]}, "mark": {"type": "rule", "strokeDash": [3, 2], "color": "#555", "strokeWidth": 1}, "encoding": {"y2": {"field": "y2"}}},
        {"data": {"values": [{"x": 1, "y": 0.13, "sh": "triangle-left"}, {"x": 31.5, "y": 0.13, "sh": "triangle-right"}, {"x": 34.5, "y": 0.13, "sh": "triangle-left"}, {"x": 99, "y": 0.13, "sh": "triangle-right"}]}, "mark": {"type": "point", "filled": true, "color": "black", "size": 22, "opacity": 1}, "encoding": {"shape": {"field": "sh", "type": "nominal", "scale": null}}},
        {"data": {"values": [{"x": 13, "y": 0.13, "t": "Swing"}, {"x": 65, "y": 0.13, "t": "Stance"}]}, "mark": {"type": "text", "fontSize": 12.5, "color": "#222"}, "encoding": {"text": {"field": "t"}}}
      ]
    }
  ]
}
